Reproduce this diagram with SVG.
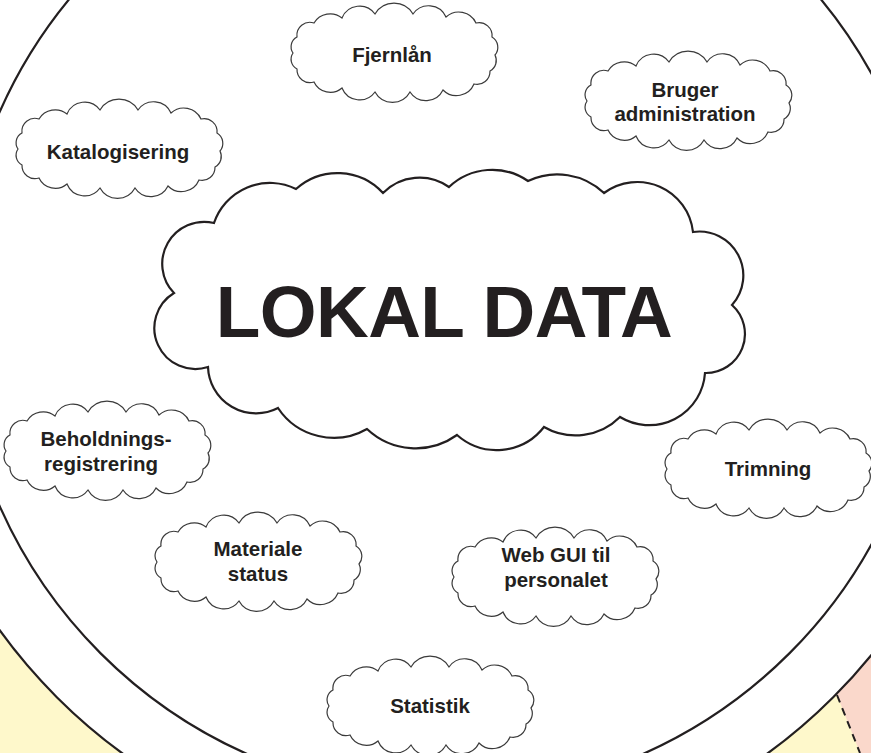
<svg xmlns="http://www.w3.org/2000/svg" xmlns:xlink="http://www.w3.org/1999/xlink" width="871" height="753" viewBox="0 0 871 753">
<style>
.lbl{font-family:"Liberation Sans",Arial,sans-serif;font-weight:bold;font-size:20.5px;fill:#231f20;text-anchor:middle}
.big{font-family:"Liberation Sans",Arial,sans-serif;font-weight:bold;font-size:73px;fill:#231f20;text-anchor:middle;letter-spacing:-0.6px}
.sc{fill:#fff;stroke:#3a3a3a;stroke-width:1.2;stroke-linejoin:miter}
.ring{fill:#fff;stroke:#231f20;stroke-width:2.2}
</style>
<defs>
<path id="cloud" d="M-80,-30 A19,19 0 0 1 -52,-35 A19,19 0 0 1 -19,-39 A22,22 0 0 1 19,-39 A19,19 0 0 1 52,-36 A19,19 0 0 1 82,-30 A13,13 0 0 1 98,-16 A12,12 0 0 1 101,2 A12,12 0 0 1 96,18 A13,13 0 0 1 80,31 A19,19 0 0 1 49,37 A19,19 0 0 1 16,39 A20,20 0 0 1 -19,39 A19,19 0 0 1 -52,35 A18,18 0 0 1 -80,29 A13,13 0 0 1 -97,16 A11,11 0 0 1 -101,0 A11,11 0 0 1 -97,-16 A13,13 0 0 1 -80,-30 Z"/>
</defs>
<g id="background">
<rect x="0" y="0" width="871" height="753" fill="#fef8cb"/>
<polygon points="820,652 860,753 871,753 871,560" fill="#fad8cb"/>
<line x1="837" y1="695" x2="860" y2="753" stroke="#231f20" stroke-width="2" stroke-dasharray="8,6"/>
<circle cx="445" cy="309" r="549" class="ring" stroke-width="2"/>
<circle cx="445" cy="309" r="487" class="ring"/>
</g>
<g id="lokal-data">
<path d="M214,223 A59,59 0 0 1 296,189 A62,62 0 0 1 383,193 A51,51 0 0 1 449,187 A63,63 0 0 1 528,181 A68,68 0 0 1 604,193 A56,56 0 0 1 693,232 A44,44 0 0 1 732,305 A39,39 0 0 1 705,373 A56,56 0 0 1 620,417 A63,63 0 0 1 544,427 A60,60 0 0 1 457,435 A71,71 0 0 1 367,429 A67,67 0 0 1 278,408 A48,48 0 0 1 208,367 A41,41 0 0 1 174,293 A42,42 0 0 1 214,223 Z" fill="#fff" stroke="#231f20" stroke-width="2.2"/>
<text class="big" x="444" y="337">LOKAL DATA</text>
</g>
<g id="fjernlaan">
<use xlink:href="#cloud" class="sc" transform="translate(394,53)"/>
<text class="lbl" x="392" y="62">Fjernlån</text>
</g>
<g id="bruger-administration">
<use xlink:href="#cloud" class="sc" transform="translate(688,101)"/>
<text class="lbl" x="685" y="97">Bruger</text>
<text class="lbl" x="685" y="121">administration</text>
</g>
<g id="katalogisering">
<use xlink:href="#cloud" class="sc" transform="translate(119,149)"/>
<text class="lbl" x="118" y="159">Katalogisering</text>
</g>
<g id="beholdningsregistrering">
<use xlink:href="#cloud" class="sc" transform="translate(107,451)"/>
<text class="lbl" x="106" y="446">Beholdnings-</text>
<text class="lbl" x="101" y="471">registrering</text>
</g>
<g id="trimning">
<use xlink:href="#cloud" class="sc" transform="translate(768,469)"/>
<text class="lbl" x="768" y="476">Trimning</text>
</g>
<g id="materiale-status">
<use xlink:href="#cloud" class="sc" transform="translate(258,562)"/>
<text class="lbl" x="258" y="556">Materiale</text>
<text class="lbl" x="258" y="581">status</text>
</g>
<g id="web-gui">
<use xlink:href="#cloud" class="sc" transform="translate(555,577)"/>
<text class="lbl" x="556" y="562">Web GUI til</text>
<text class="lbl" x="556" y="587">personalet</text>
</g>
<g id="statistik">
<use xlink:href="#cloud" class="sc" transform="translate(430,706)"/>
<text class="lbl" x="430" y="713">Statistik</text>
</g>
</svg>
